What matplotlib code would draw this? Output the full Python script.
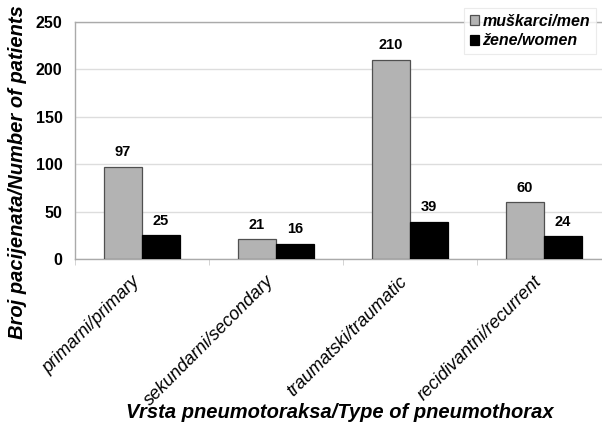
import matplotlib
matplotlib.use("Agg")
import matplotlib.pyplot as plt
import matplotlib.transforms as mtransforms
import numpy as np

plt.rcParams['font.family'] = ['Liberation Sans', 'DejaVu Sans']

categories = ["primarni/primary", "sekundarni/secondary", "traumatski/traumatic", "recidivantni/recurrent"]
men = [97, 21, 210, 60]
women = [25, 16, 39, 24]
series_labels = ["muškarci/men", "žene/women"]
yticks = [0, 50, 100, 150, 200, 250]

fig = plt.figure(figsize=(6.02, 4.28), dpi=100)
ax = fig.add_axes([75/602, 169/428, 536/602, 237/428])

x = np.arange(len(categories))
w = 0.285
b1 = ax.bar(x - w/2, men, w, color="#b3b3b3", edgecolor="#505050", linewidth=0.9, label=series_labels[0], zorder=3)
b2 = ax.bar(x + w/2, women, w, color="#000000", edgecolor="#000000", linewidth=0.9, label=series_labels[1], zorder=3)

for bars, vals in ((b1, men), (b2, women)):
    for rect, v in zip(bars, vals):
        ax.text(rect.get_x() + rect.get_width()/2, v + 8, str(v), ha="center", va="bottom",
                fontsize=10.5, fontweight="bold")

ax.set_xlim(-0.5, 3.5)
ax.set_ylim(0, 250)
ax.set_yticks(yticks)
ax.set_yticklabels([str(t) for t in yticks], fontsize=11.5, fontweight="bold")
ax.tick_params(axis="y", length=0, pad=9)
ax.yaxis.grid(True, color="#dddddd", linewidth=1.0, zorder=0)

ax.set_xticks(x)
ax.set_xticklabels(categories, rotation=45, ha="right", rotation_mode="anchor",
                   fontsize=13, fontstyle="italic")
ax.tick_params(axis="x", length=0, pad=10)
shift = mtransforms.ScaledTranslation(-11/100, 0, fig.dpi_scale_trans)
for lbl in ax.get_xticklabels():
    lbl.set_transform(lbl.get_transform() + shift)
ax.set_xticks(np.arange(-0.5, 4.0, 1.0), minor=True)
ax.tick_params(axis="x", which="minor", length=4, color="#cccccc", direction="out")

for side in ["left", "bottom", "top", "right"]:
    ax.spines[side].set_color("#aaaaaa")
    ax.spines[side].set_linewidth(1.0)

fig.text(18/602, 1 - 172/428, "Broj pacijenata/Number of patients", rotation=90,
         ha="center", va="center", fontsize=14.5, fontweight="bold", fontstyle="italic")
fig.text(340/602, 1 - 413/428, "Vrsta pneumotoraksa/Type of pneumothorax",
         ha="center", va="center", fontsize=14.5, fontweight="bold", fontstyle="italic")

leg = fig.legend(handles=[b1, b2], labels=series_labels, loc="upper left",
                 bbox_to_anchor=(464/602, 1 - 8/428), borderaxespad=0, frameon=True, fancybox=False,
                 handlelength=0.6, handleheight=0.6, handletextpad=0.2, borderpad=0.35,
                 labelspacing=0.3, prop={"size": 11.5, "weight": "bold", "style": "italic"})
leg.get_frame().set_edgecolor("#e6e6e6")
leg.get_frame().set_linewidth(0.8)

fig.savefig("out.png", dpi=100)
